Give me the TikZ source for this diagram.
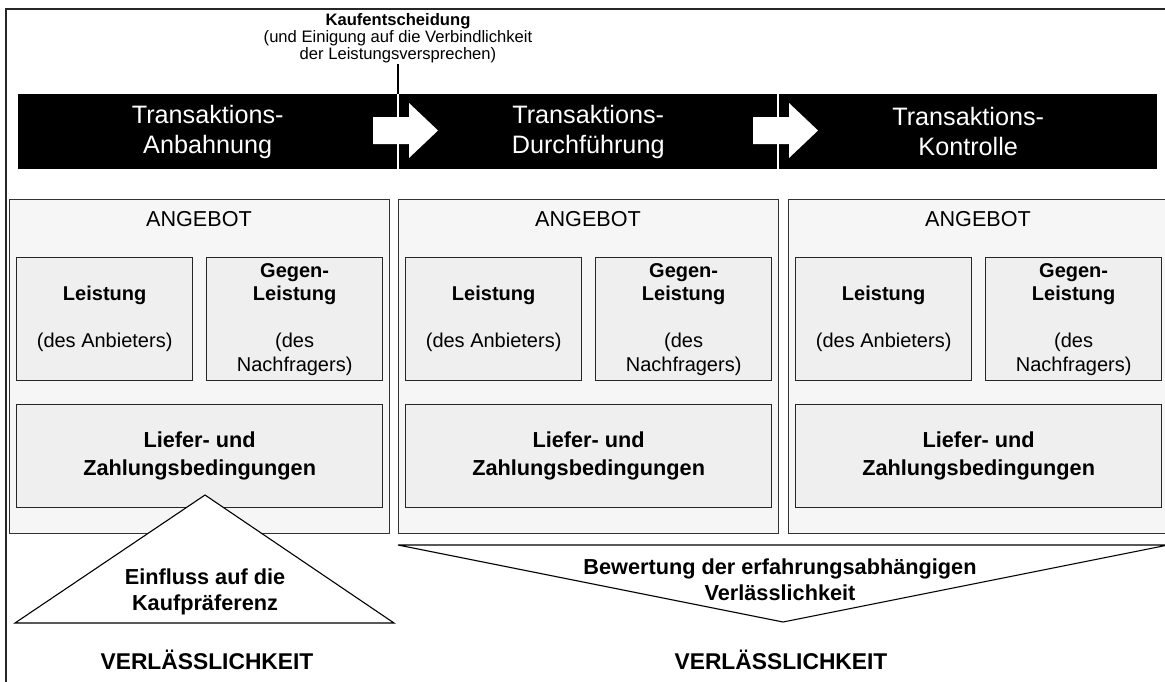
\documentclass[tikz,border=0pt]{standalone}
\usepackage{fontspec}
\setmainfont{Liberation Sans}
\definecolor{panelbg}{HTML}{F5F6F5}
\definecolor{boxbg}{HTML}{EFEFEF}
\begin{document}
\begin{tikzpicture}[x=1pt,y=-1pt,
  frameline/.style={draw=black!85, line width=1.6pt},
  phase/.style={fill=black, draw=none, anchor=north west, minimum height=75pt,
    inner sep=0pt, text=white, align=center, font=\fontsize{25.2}{30}\selectfont},
  panel/.style={draw=black!80, line width=1.1pt, fill=panelbg, anchor=north west,
    inner sep=0pt, minimum width=380pt, minimum height=334pt},
  box/.style={draw=black!85, line width=1.3pt, fill=boxbg, anchor=north west,
    inner sep=0pt, align=center},
  smallbox/.style={box, minimum width=176pt, minimum height=123pt,
    font=\fontsize{20}{23.5}\selectfont},
  widebox/.style={box, minimum width=366pt, minimum height=103pt,
    font=\fontsize{21.7}{27.7}\selectfont\bfseries},
  caption/.style={align=center, inner sep=1pt, font=\fontsize{21.6}{26}\selectfont},
  boldcaption/.style={align=center, inner sep=1pt, font=\fontsize{21.7}{26}\selectfont\bfseries},
  tri/.style={draw=black, line width=1.1pt, fill=white, line join=miter},
  blockarrow/.style={fill=white, draw=none}
]
% page
\path[use as bounding box, fill=white] (0,0) rectangle (1165,681);

% outer frame
\draw[frameline] (6,690) -- (6,9) -- (1170,9);

% decision label and its marker line
\node[align=center, inner sep=1pt, font=\fontsize{16.6}{17}\selectfont] (kauf) at (398,38)
  {\textbf{Kaufentscheidung}\\(und Einigung auf die Verbindlichkeit\\der Leistungsversprechen)};

% phase bar
\node[phase, minimum width=379pt] (ph1) at (18,94) {Transaktions-\\Anbahnung};
\node[phase, minimum width=378pt] (ph2) at (399,94) {Transaktions-\\Durchführung};
\node[phase, minimum width=378pt] (ph3) at (779,94) {Transaktions-\\Kontrolle};

\draw[line width=1.2pt] (kauf.south) -- (kauf.south |- ph1.north);

% block arrows between phases
\foreach \dx in {0,380}{
  \fill[blockarrow] (373+\dx,117) -- (409+\dx,117) -- (409+\dx,103) -- (438+\dx,130.5)
    -- (409+\dx,158) -- (409+\dx,144) -- (373+\dx,144) -- cycle;
}

% offer panels
\foreach \i/\L in {1/9,2/398,3/788}{
  \node[panel] (pan\i) at (\L,199) {};
  \node[caption] (ang\i) at (\L+190,219) {ANGEBOT};
  \node[smallbox] (lst\i) at (\L+7,257)
    {\textbf{Leistung}\\[23.5pt](des Anbieters)};
  \node[smallbox] (geg\i) at (\L+197,257)
    {\textbf{Gegen-}\\\textbf{Leistung}\\[23.5pt](des\\Nachfragers)};
  \node[widebox] (lief\i) at (\L+7,404) {Liefer- und\\Zahlungsbedingungen};
}

% influence on purchase preference
\draw[tri] (205,495) -- (394,623) -- (15,623) -- cycle;
\node[boldcaption] (einfl) at (205,592) {Einfluss auf die\\Kaufpräferenz};

% experience-based evaluation
\draw[tri] (398,545) -- (1168,545) -- (783,622) -- cycle;
\node[boldcaption] (bew) at (780,580) {Bewertung der erfahrungsabhängigen\\Verlässlichkeit};

% reliability labels
\node[boldcaption, font=\fontsize{22.8}{26}\selectfont\bfseries] (ver1) at (207,660) {VERLÄSSLICHKEIT};
\node[boldcaption, font=\fontsize{22.8}{26}\selectfont\bfseries] (ver2) at (781,660) {VERLÄSSLICHKEIT};
\end{tikzpicture}
\end{document}
